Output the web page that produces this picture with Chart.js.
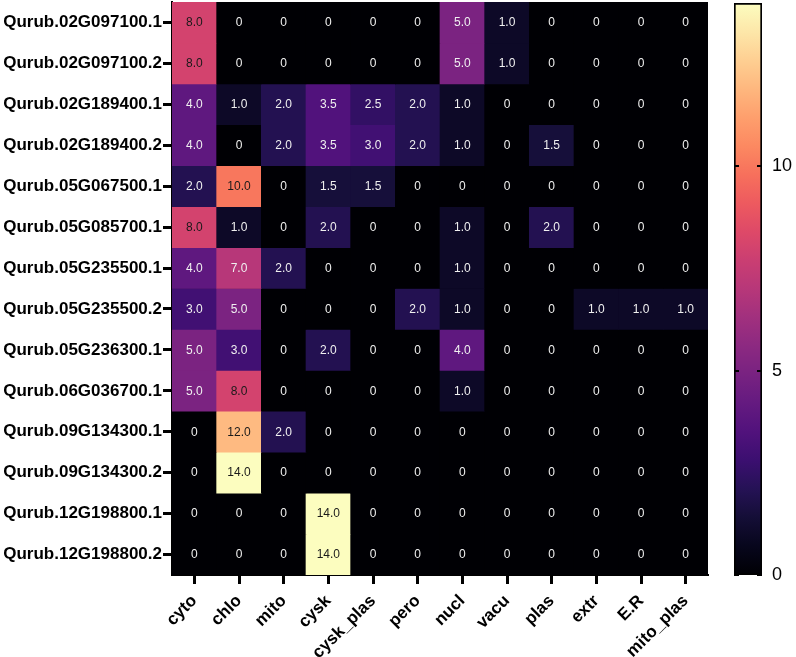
<!DOCTYPE html>
<html><head><meta charset="utf-8">
<script src="https://cdn.jsdelivr.net/npm/chart.js@4.4.1/dist/chart.umd.min.js"></script>
<style>
html,body{margin:0;padding:0;background:#fff;}
#main{position:absolute;left:0;top:0;width:710px;height:657px;}
#cb{position:absolute;left:720px;top:0;width:76px;height:657px;}
</style></head><body>
<div id="main"><canvas id="c1"></canvas></div>
<div id="cb"><canvas id="c2"></canvas></div>
<script>
const rowLabels = [
  'Qurub.02G097100.1','Qurub.02G097100.2','Qurub.02G189400.1','Qurub.02G189400.2',
  'Qurub.05G067500.1','Qurub.05G085700.1','Qurub.05G235500.1','Qurub.05G235500.2',
  'Qurub.05G236300.1','Qurub.06G036700.1','Qurub.09G134300.1','Qurub.09G134300.2',
  'Qurub.12G198800.1','Qurub.12G198800.2'
];
const colLabels = ['cyto','chlo','mito','cysk','cysk_plas','pero','nucl','vacu','plas','extr','E.R','mito_plas'];

const cyto      = [8, 8, 4, 4, 2, 8, 4, 3, 5, 5, 0, 0, 0, 0];
const chlo      = [0, 0, 1, 0, 10, 1, 7, 5, 3, 8, 12, 14, 0, 0];
const mito      = [0, 0, 2, 2, 0, 0, 2, 0, 0, 0, 2, 0, 0, 0];
const cysk      = [0, 0, 3.5, 3.5, 1.5, 2, 0, 0, 2, 0, 0, 0, 14, 14];
const cysk_plas = [0, 0, 2.5, 3, 1.5, 0, 0, 0, 0, 0, 0, 0, 0, 0];
const pero      = [0, 0, 2, 2, 0, 0, 0, 2, 0, 0, 0, 0, 0, 0];
const nucl      = [5, 5, 1, 1, 0, 1, 1, 1, 4, 1, 0, 0, 0, 0];
const vacu      = [1, 1, 0, 0, 0, 0, 0, 0, 0, 0, 0, 0, 0, 0];
const plas      = [0, 0, 0, 1.5, 0, 2, 0, 0, 0, 0, 0, 0, 0, 0];
const extr      = [0, 0, 0, 0, 0, 0, 0, 1, 0, 0, 0, 0, 0, 0];
const er        = [0, 0, 0, 0, 0, 0, 0, 1, 0, 0, 0, 0, 0, 0];
const mito_plas = [0, 0, 0, 0, 0, 0, 0, 1, 0, 0, 0, 0, 0, 0];
const columnValues = [cyto, chlo, mito, cysk, cysk_plas, pero, nucl, vacu, plas, extr, er, mito_plas];

const colorbarRange = [0, 14];
const colorbarTicks = [0, 5, 10];

const magma = ['#000004','#07061c','#140e36','#251255','#3b0f70','#51127c','#641a80','#782281',
  '#8c2981','#a1307e','#b73779','#ca3e72','#de4968','#ed5a5f','#f7705c','#fc8961','#fe9f6d',
  '#feb77e','#fecf92','#fde7a9','#fcfdbf'];

function hex2rgb(h){ return [parseInt(h.substr(1,2),16),parseInt(h.substr(3,2),16),parseInt(h.substr(5,2),16)]; }
function colorFor(v){
  let t = (v - colorbarRange[0]) / (colorbarRange[1] - colorbarRange[0]);
  t = Math.max(0, Math.min(1, t));
  const p = t * (magma.length - 1);
  const i = Math.min(Math.floor(p), magma.length - 2);
  const f = p - i;
  const a = hex2rgb(magma[i]), b = hex2rgb(magma[i+1]);
  const c = a.map((x, k) => Math.round(x + (b[k]-x)*f));
  return `rgb(${c[0]},${c[1]},${c[2]})`;
}

const FONT = '"Liberation Sans", Arial, sans-serif';

const datasets = rowLabels.map((name, r) => ({
  label: name,
  data: colLabels.map(() => [r - 0.5, r + 0.5]),
  cellValues: columnValues.map(col => col[r]),
  backgroundColor: columnValues.map(col => colorFor(col[r])),
  borderWidth: 0,
  barPercentage: 1,
  categoryPercentage: 1,
  grouped: false
}));

const bgPlugin = {
  id: 'bg',
  beforeDatasetsDraw(chart){
    const {ctx, chartArea:a} = chart;
    ctx.save(); ctx.fillStyle = '#000004';
    ctx.fillRect(a.left, a.top, a.right - a.left, a.bottom - a.top);
    ctx.restore();
  }
};
const textPlugin = {
  id: 'cellText',
  afterDatasetsDraw(chart){
    const c = chart.ctx;
    c.save();
    c.font = '12px ' + FONT;
    c.textAlign = 'center'; c.textBaseline = 'middle';
    chart.data.datasets.forEach((ds, i) => {
      const meta = chart.getDatasetMeta(i);
      meta.data.forEach((el, j) => {
        const v = ds.cellValues[j];
        c.fillStyle = v >= 7.5 ? '#1a1a1a' : '#f0f0f0';
        c.fillText(v === 0 ? '0' : v.toFixed(1), el.x, (el.y + el.base) / 2 + 0.5);
      });
    });
    c.restore();
  }
};

new Chart(document.getElementById('c1'), {
  type: 'bar',
  data: { labels: colLabels, datasets },
  plugins: [bgPlugin, textPlugin],
  options: {
    responsive: true, maintainAspectRatio: false, animation: false,
    layout: { padding: { top: 2, right: 2, left: 0, bottom: 0 } },
    plugins: { legend: { display: false }, tooltip: { enabled: false } },
    scales: {
      x: {
        type: 'category', offset: true,
        grid: { offset: false, drawOnChartArea: false, drawTicks: true, tickLength: 9, tickWidth: 3, tickColor: '#000' },
        border: { display: true, color: '#000', width: 2 },
        ticks: { font: { family: FONT, size: 17, weight: 'bold' }, color: '#000', maxRotation: 45, minRotation: 45, autoSkip: false, padding: 7 },
        afterFit(s){ s.height = 82; s.paddingLeft = 0; s.paddingRight = 0; }
      },
      y: {
        type: 'linear', min: -0.5, max: rowLabels.length - 0.5, reverse: true,
        afterBuildTicks(s){ s.ticks = rowLabels.map((_, i) => ({ value: i })); },
        grid: { drawOnChartArea: false, drawTicks: true, tickLength: 9, tickWidth: 3, tickColor: '#000' },
        border: { display: true, color: '#000', width: 2 },
        ticks: { callback: v => rowLabels[v], font: { family: FONT, size: 17, weight: 'bold' }, color: '#000', autoSkip: false, padding: 1 },
        afterFit(s){ s.width = 172; s.paddingTop = 0; s.paddingBottom = 0; }
      }
    }
  }
});

const cbTickPlugin = {
  id: 'cbTicks',
  afterDraw(chart){
    const {ctx, chartArea:a} = chart;
    const y = chart.scales.y;
    ctx.save(); ctx.strokeStyle = '#000'; ctx.lineWidth = 2;
    y.ticks.forEach(t => {
      const py = Math.round(y.getPixelForValue(t.value));
      ctx.beginPath();
      ctx.moveTo(a.left, py); ctx.lineTo(a.left + 5, py);
      ctx.moveTo(a.right - 5, py); ctx.lineTo(a.right, py);
      ctx.stroke();
    });
    ctx.restore();
  }
};

new Chart(document.getElementById('c2'), {
  type: 'bar',
  data: {
    labels: [''],
    datasets: [{
      data: [colorbarRange],
      backgroundColor: (ctx) => {
        const chart = ctx.chart;
        if (!chart.chartArea) return '#000';
        const y = chart.scales.y;
        const g = chart.ctx.createLinearGradient(0, y.getPixelForValue(colorbarRange[0]), 0, y.getPixelForValue(colorbarRange[1]));
        magma.forEach((c, i) => g.addColorStop(i / (magma.length - 1), c));
        return g;
      },
      borderColor: '#000', borderWidth: 2, borderSkipped: false,
      barPercentage: 1, categoryPercentage: 1
    }]
  },
  plugins: [cbTickPlugin],
  options: {
    responsive: true, maintainAspectRatio: false, animation: false,
    layout: { padding: { top: 3, right: 0, left: 14, bottom: 82 } },
    plugins: { legend: { display: false }, tooltip: { enabled: false } },
    scales: {
      x: { display: false },
      y: {
        position: 'right', min: colorbarRange[0], max: colorbarRange[1],
        afterBuildTicks(s){ s.ticks = colorbarTicks.map(v => ({ value: v })); },
        grid: { display: false, drawTicks: false }, border: { display: false },
        ticks: { font: { family: FONT, size: 18 }, color: '#000', padding: 10 },
        afterFit(s){ s.width = 34; s.paddingTop = 0; s.paddingBottom = 0; }
      }
    }
  }
});
</script>
</body></html>
